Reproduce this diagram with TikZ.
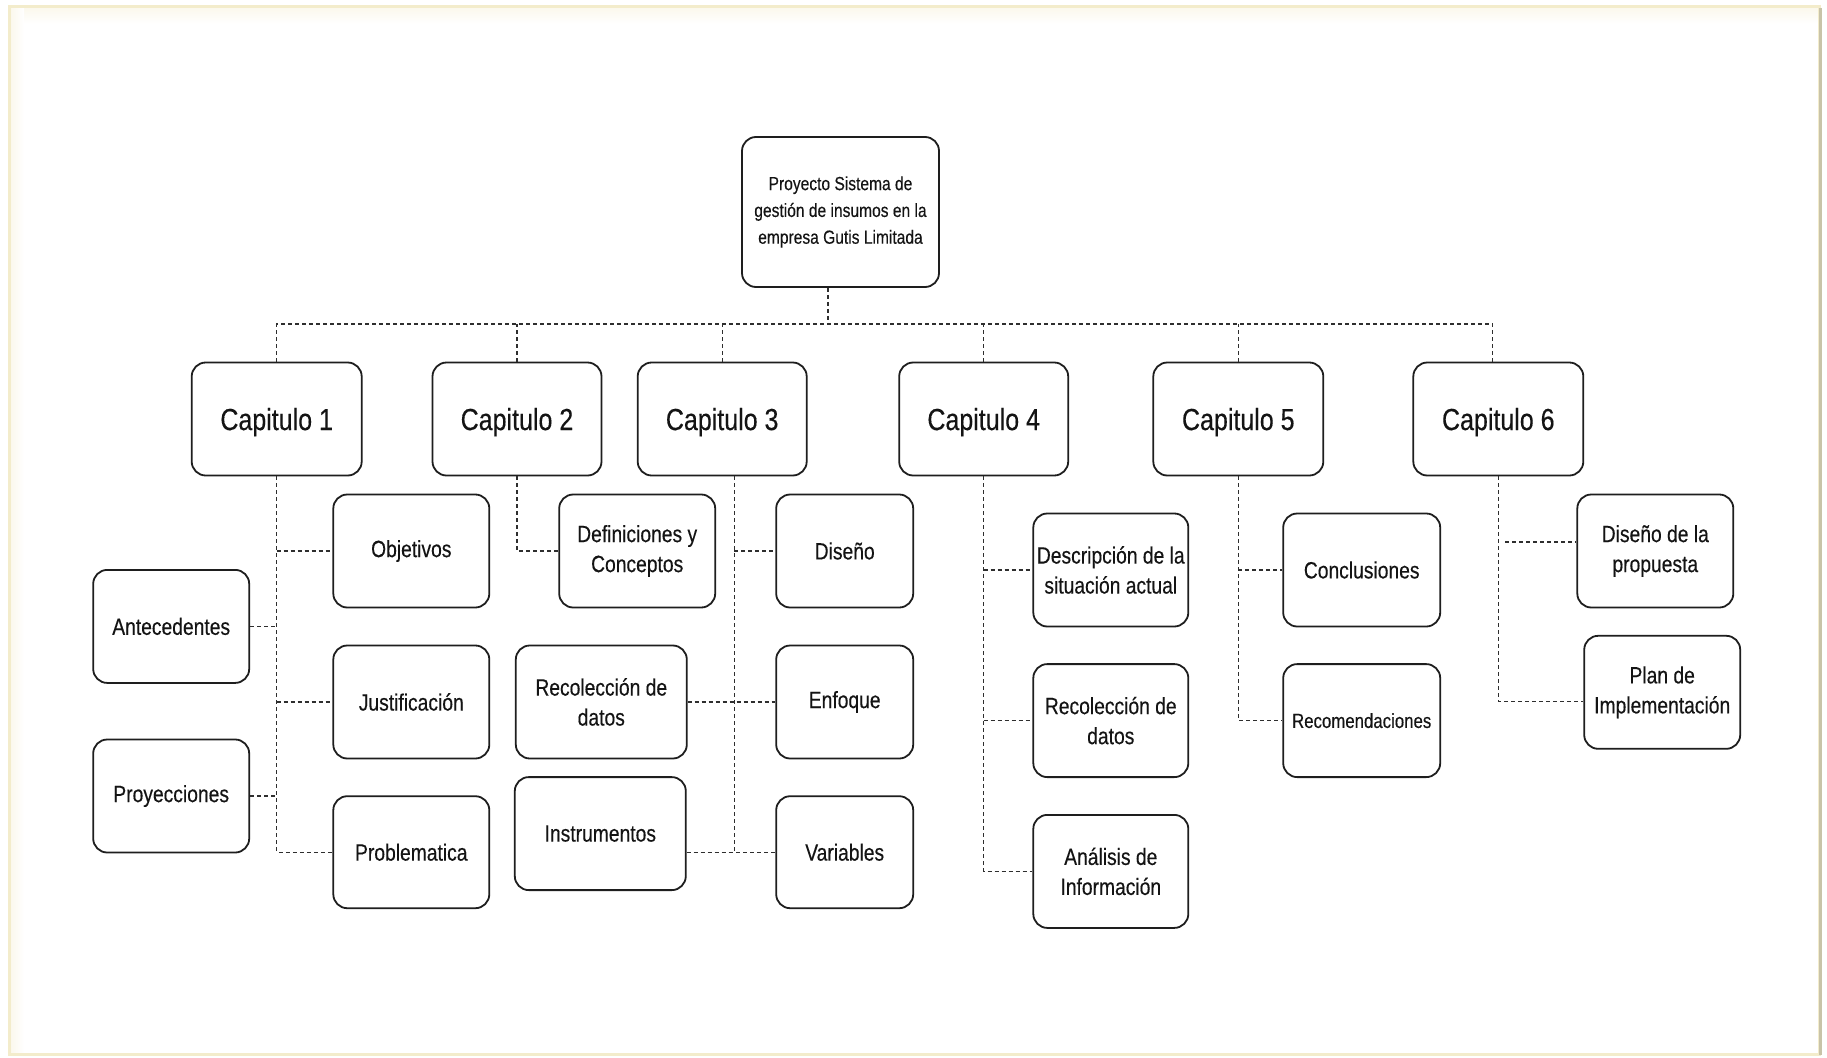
\documentclass[tikz,border=0pt]{standalone}
\usepackage{fontspec}
\setmainfont{Liberation Sans}[FakeStretch=0.82, FakeBold=0.3]
\usetikzlibrary{calc}
\definecolor{boxc}{HTML}{1E1E1E}
\definecolor{txt}{HTML}{141414}
\definecolor{linec}{HTML}{2E2E2E}
\definecolor{cream}{HTML}{F3ECCB}
\definecolor{creamlight}{HTML}{FBF8EC}
\definecolor{edgegray}{HTML}{C8C3A8}
\newcommand{\chapfont}{\fontsize{30.5}{34}\selectfont}
\newcommand{\bodyfont}{\fontsize{23.5}{30}\selectfont}
\newcommand{\rootfont}{\fontsize{19}{26.8}\selectfont}
\newcommand{\smallerfont}{\fontsize{20.5}{24}\selectfont}
\tikzset{
  box/.style={draw=boxc, line width=1.8pt, rounded corners=14pt, align=center,
    inner sep=0pt, text=txt, font=\bodyfont, minimum height=113pt},
  chap/.style={box, minimum width=170pt, font=\chapfont, text depth=0pt},
  link/.style={draw=linec, line width=1.2pt, dash pattern=on 4pt off 3pt},
}
\begin{document}
\begin{tikzpicture}[x=1pt, y=-1pt]
  % page and its cream frame
  \useasboundingbox (0,0) rectangle (1827,1057);
  \fill[white] (0,0) rectangle (1827,1057);
  \shade[top color=creamlight, bottom color=white] (10,7) rectangle (1818,24);
  \shade[left color=creamlight, right color=white] (10,7) rectangle (24,1053);
  \draw[cream, line width=3pt] (9.5,6.5) rectangle (1819,1054.5);
  \draw[edgegray, line width=3pt] (1820,8) -- (1820,1055);

  % root
  \node[box, minimum width=197pt, minimum height=150pt, font=\rootfont] (root) at (840.5,212)
    {Proyecto Sistema de\\gestión de insumos en la\\empresa Gutis Limitada};

  % chapters
  \node[chap] (c1) at (276.7,419) {Capitulo 1};
  \node[chap, minimum width=169pt] (c2) at (517,419) {Capitulo 2};
  \node[chap, minimum width=169pt] (c3) at (722.2,419) {Capitulo 3};
  \node[chap, minimum width=169pt] (c4) at (983.7,419) {Capitulo 4};
  \node[chap] (c5) at (1238.3,419) {Capitulo 5};
  \node[chap] (c6) at (1498.3,419) {Capitulo 6};

  % chapter 1
  \node[box, minimum width=156pt] (obj) at (411.3,551) {Objetivos};
  \node[box, minimum width=156pt] (just) at (411.3,702) {Justificación};
  \node[box, minimum width=156pt, minimum height=112pt] (prob) at (411.3,852.2) {Problematica};
  \node[box, minimum width=156pt] (ante) at (171.2,626.4) {Antecedentes};
  \node[box, minimum width=156pt] (proy) at (171.2,796) {Proyecciones};

  % chapter 2
  \node[box, minimum width=156pt] (defi) at (637.2,551) {Definiciones y\\Conceptos};
  \node[box, minimum width=171pt] (reco) at (601.3,702) {Recolección de\\datos};
  \node[box, minimum width=171pt] (instr) at (600.3,833.6) {Instrumentos};

  % chapter 3
  \node[box, minimum width=137pt] (dise) at (844.7,551) {Diseño};
  \node[box, minimum width=137pt] (enfo) at (844.7,702) {Enfoque};
  \node[box, minimum width=137pt, minimum height=112pt] (vari) at (844.7,852.2) {Variables};

  % chapter 4
  \node[box, minimum width=155pt] (desc) at (1110.8,570) {Descripción de la\\situación actual};
  \node[box, minimum width=155pt] (reca) at (1110.8,720.6) {Recolección de\\datos};
  \node[box, minimum width=155pt] (anal) at (1110.8,871.4) {Análisis de\\Información};

  % chapter 5
  \node[box, minimum width=157pt] (concl) at (1361.7,570) {Conclusiones};
  \node[box, minimum width=157pt, font=\smallerfont] (recom) at (1361.7,720.6) {Recomendaciones};

  % chapter 6
  \node[box, minimum width=156pt] (dprop) at (1655.3,551) {Diseño de la\\propuesta};
  \node[box, minimum width=156pt] (plan) at (1662.2,692.3) {Plan de\\Implementación};

  % bus from the root to the chapters
  \coordinate (rootdrop) at ($(root.south)+(-12.5,0)$);
  \coordinate (bus) at (0,324);
  \coordinate (c6top) at ($(c6.north)+(-5.6,0)$);
  \draw[link] (rootdrop) -- (rootdrop |- bus);
  \draw[link] (c1.north) -- (c1.north |- bus) -- (c6top |- bus) -- (c6top);
  \foreach \c in {c2,c3,c4,c5} \draw[link] (\c.north) -- (\c.north |- bus);

  % chapter 1 links
  \draw[link] (c1.south) -- (c1.south |- prob.west) -- (prob.west);
  \draw[link] (c1.south |- obj.west) -- (obj.west);
  \draw[link] (c1.south |- just.west) -- (just.west);
  \draw[link] (ante.east) -- (ante.east -| c1.south);
  \draw[link] (proy.east) -- (proy.east -| c1.south);

  % chapter 2 link
  \draw[link] (c2.south) -- (c2.south |- defi.west) -- (defi.west);

  % chapter 3 links
  \coordinate (c3v) at ($(c3.south)+(12,0)$);
  \draw[link] (c3v) -- (c3v |- vari.west) -- (vari.west);
  \draw[link] (c3v |- dise.west) -- (dise.west);
  \draw[link] (reco.east) -- (enfo.west);
  \draw[link] (instr.east |- vari.west) -- (c3v |- vari.west);

  % chapter 4 links
  \draw[link] (c4.south) -- (c4.south |- anal.west) -- (anal.west);
  \draw[link] (c4.south |- desc.west) -- (desc.west);
  \draw[link] (c4.south |- reca.west) -- (reca.west);

  % chapter 5 links
  \draw[link] (c5.south) -- (c5.south |- recom.west) -- (recom.west);
  \draw[link] (c5.south |- concl.west) -- (concl.west);

  % chapter 6 links
  \coordinate (planin) at ($(plan.west)+(0,9)$);
  \coordinate (dpin) at ($(dprop.west)+(0,-9)$);
  \draw[link] (c6.south) -- (c6.south |- planin) -- (planin);
  \draw[link] ($(c6.south |- dpin)+(7,0)$) -- (dpin);
\end{tikzpicture}
\end{document}
